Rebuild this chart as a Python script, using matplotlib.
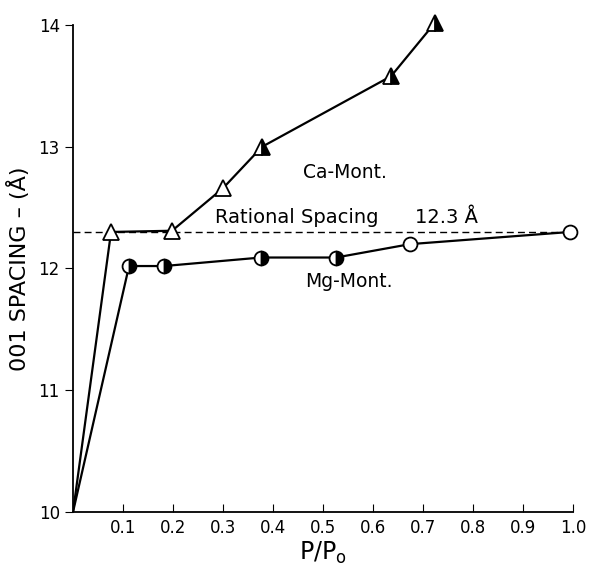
import numpy as np
import matplotlib
matplotlib.use("Agg")
import matplotlib.pyplot as plt

# Ca-montmorillonite (triangles)
ca_p = [0.0, 0.076, 0.198, 0.30, 0.378, 0.636, 0.724]
ca_d = [10.0, 12.30, 12.31, 12.66, 13.00, 13.58, 14.02]
ca_fill = ['none', 'none', 'none', 'none', 'right', 'right', 'right']

# Mg-montmorillonite (circles)
mg_p = [0.0, 0.112, 0.182, 0.376, 0.526, 0.674, 0.994]
mg_d = [10.0, 12.02, 12.02, 12.09, 12.09, 12.20, 12.30]
mg_fill = ['none', 'right', 'right', 'right', 'right', 'none', 'none']

rational = 12.3
xticks = [0.1, 0.2, 0.3, 0.4, 0.5, 0.6, 0.7, 0.8, 0.9, 1.0]
yticks = [10, 11, 12, 13, 14]

plt.rcParams['font.family'] = ['DejaVu Sans']

fig = plt.figure(figsize=(5.89, 5.70), dpi=100)
ax = fig.add_axes([0.124, 0.102, 0.849, 0.854])

ax.plot(ca_p, ca_d, color='k', lw=1.6, zorder=2)
ax.plot(mg_p, mg_d, color='k', lw=1.6, zorder=2)
ax.axhline(rational, xmin=0, xmax=0.99, color='k', lw=1.0, ls=(0, (5, 3)), zorder=1)

for x, y, f in zip(ca_p[1:], ca_d[1:], ca_fill[1:]):
    if f == 'none':
        ax.plot(x, y, marker='^', ms=12, mfc='white', mec='k', mew=1.3, clip_on=False, zorder=3)
    else:
        ax.plot(x, y, marker='^', ms=12, fillstyle=f, mfc='k', mfcalt='white', mec='k', mew=1.3,
                clip_on=False, zorder=3)

for x, y, f in zip(mg_p[1:], mg_d[1:], mg_fill[1:]):
    if f == 'none':
        ax.plot(x, y, marker='o', ms=10, mfc='white', mec='k', mew=1.3, clip_on=False, zorder=3)
    else:
        ax.plot(x, y, marker='o', ms=10, fillstyle=f, mfc='k', mfcalt='white', mec='k', mew=1.3,
                clip_on=False, zorder=3)

ax.text(0.46, 12.79, 'Ca-Mont.', fontsize=13.5, va='center')
ax.text(0.284, 12.42, 'Rational Spacing', fontsize=14, va='center')
ax.text(0.684, 12.42, '12.3 Å', fontsize=14, va='center')
ax.text(0.464, 11.89, 'Mg-Mont.', fontsize=13.5, va='center')

ax.set_xlim(0, 1.0)
ax.set_ylim(10, 14)
ax.set_xticks(xticks)
ax.set_xticklabels(['%.1f' % t for t in xticks], fontsize=12)
ax.set_yticks(yticks)
ax.set_yticklabels([str(t) for t in yticks], fontsize=12)
ax.tick_params(axis='x', direction='in', length=6, pad=5)
ax.tick_params(axis='y', direction='out', length=6)

ax.set_xlabel(r'P/P$_\mathrm{o}$', fontsize=17, labelpad=2)
ax.set_ylabel('001 SPACING – (Å)', fontsize=16, labelpad=6)

ax.spines['top'].set_visible(False)
ax.spines['right'].set_visible(False)
ax.spines['left'].set_linewidth(1.3)
ax.spines['bottom'].set_linewidth(1.3)

plt.savefig('out.png', dpi=100)
